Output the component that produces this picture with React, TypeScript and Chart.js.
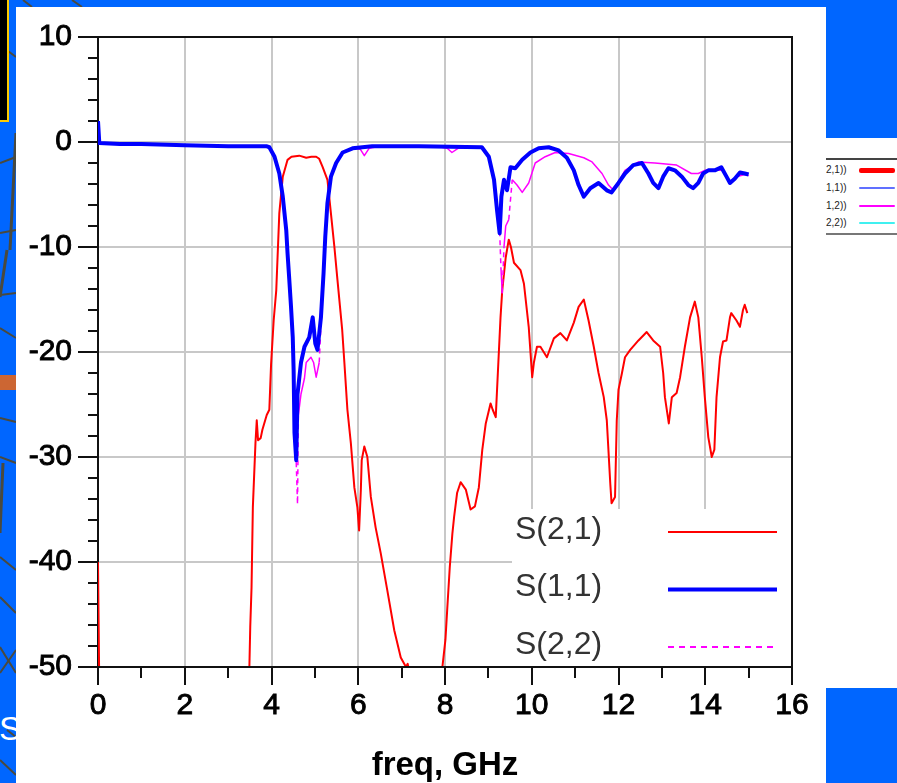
import React, { useEffect, useRef } from 'react';
import { Chart, registerables } from 'chart.js';
Chart.register(...registerables);

const FONT = '"Liberation Sans", Arial, Helvetica, sans-serif';

// ---- data (freq in GHz, magnitude in dB) ----
const s21Freq = [0, 0.04, 3.4, 3.49, 3.51, 3.54, 3.57, 3.63, 3.66, 3.69, 3.75, 3.79, 3.89, 3.95, 3.99, 4.05, 4.11, 4.18, 4.26, 4.37, 4.46, 4.64, 4.80, 4.92, 5.03, 5.10, 5.18, 5.29, 5.37, 5.45, 5.52, 5.63, 5.68, 5.75, 5.83, 5.91, 5.98, 6.02, 6.06, 6.08, 6.14, 6.21, 6.29, 6.40, 6.52, 6.67, 6.83, 6.98, 7.10, 7.14, 7.17, 7.3, 7.85, 7.94, 8.01, 8.05, 8.11, 8.17, 8.21, 8.28, 8.36, 8.48, 8.59, 8.69, 8.78, 8.86, 8.94, 9.05, 9.10, 9.17, 9.23, 9.28, 9.32, 9.40, 9.47, 9.52, 9.59, 9.74, 9.82, 9.93, 10.01, 10.05, 10.12, 10.20, 10.35, 10.51, 10.66, 10.81, 10.97, 11.08, 11.20, 11.31, 11.43, 11.54, 11.66, 11.73, 11.81, 11.84, 11.92, 11.96, 12.0, 12.08, 12.15, 12.27, 12.46, 12.65, 12.80, 12.96, 13.03, 13.07, 13.16, 13.23, 13.34, 13.42, 13.53, 13.65, 13.76, 13.84, 13.92, 13.99, 14.07, 14.15, 14.21, 14.26, 14.34, 14.41, 14.49, 14.57, 14.60, 14.72, 14.80, 14.87, 14.91, 14.97];
const s21Db = [-40, -56, -56, -50, -46.2, -42.4, -34.8, -28.7, -26.5, -28.4, -28.2, -27.4, -26, -25.5, -21.2, -17, -14.1, -6.8, -3.3, -1.7, -1.4, -1.3, -1.5, -1.4, -1.4, -1.6, -2.4, -3.6, -6.8, -10, -13.1, -17.9, -21, -25.5, -28.7, -32.9, -34.8, -37, -33.1, -30.3, -29, -30, -33.8, -36.7, -39.2, -42.7, -46.5, -49.1, -50, -49.7, -50.3, -56, -56, -50, -47.4, -44.6, -40.5, -37.3, -35.7, -33.4, -32.4, -33.1, -35, -34.7, -32.9, -29.3, -26.8, -24.9, -25.5, -26.2, -21, -16.7, -14.1, -11, -9.3, -10, -11.5, -12.2, -13.5, -17.6, -22.4, -21, -19.5, -19.5, -20.5, -18.7, -18.2, -18.9, -17.2, -15.7, -15, -17, -19.5, -22, -24.3, -26.5, -32.5, -34.4, -33.8, -26.5, -23.6, -22, -20.5, -19.8, -18.9, -18.1, -18.9, -19.5, -22, -24.3, -26.8, -24.3, -23.9, -22.4, -19.5, -16.7, -15.2, -16.7, -20.5, -24.3, -28.1, -30, -29.3, -24.3, -20.5, -19, -18.9, -16.7, -16.3, -17, -17.6, -16, -15.5, -16.3];

const s11Freq = [0, 0.03, 0.5, 1.0, 2.0, 3.0, 3.88, 3.95, 4.07, 4.18, 4.26, 4.34, 4.37, 4.41, 4.45, 4.49, 4.51, 4.53, 4.57, 4.60, 4.64, 4.68, 4.76, 4.87, 4.95, 5.01, 5.06, 5.14, 5.20, 5.24, 5.29, 5.37, 5.49, 5.64, 5.87, 6.32, 7.4, 8.85, 9.01, 9.13, 9.20, 9.26, 9.30, 9.36, 9.43, 9.51, 9.62, 9.78, 9.97, 10.16, 10.39, 10.62, 10.81, 10.97, 11.08, 11.20, 11.35, 11.54, 11.73, 11.84, 12.0, 12.15, 12.34, 12.54, 12.69, 12.80, 12.92, 13.03, 13.15, 13.30, 13.46, 13.61, 13.72, 13.84, 13.95, 14.07, 14.22, 14.37, 14.49, 14.57, 14.68, 14.80, 14.91, 15.0];
const s11Db = [2.0, -0.1, -0.2, -0.2, -0.3, -0.4, -0.4, -0.5, -1.4, -3, -5.2, -8.4, -10.6, -13.1, -15.7, -18.6, -21.7, -27.7, -30.3, -24, -22.5, -21, -19.5, -18.6, -16.7, -19.2, -19.8, -16.7, -12.5, -9, -5.8, -3.3, -2, -1, -0.6, -0.4, -0.4, -0.5, -1.4, -3.6, -6.5, -8.7, -5.2, -3.6, -4.6, -2.4, -2.5, -1.7, -1, -0.6, -0.5, -0.8, -1.5, -2.7, -4.1, -5.2, -4.4, -3.9, -4.6, -4.8, -3.9, -3, -2.2, -2, -3, -3.9, -4.4, -3.3, -2.5, -2.7, -3.3, -4.1, -4.4, -3.9, -3, -2.7, -2.7, -2.4, -3.3, -3.9, -3.5, -2.9, -3, -3.1];

const s22Freq = [0, 0.5, 2.0, 3.0, 3.88, 3.95, 4.07, 4.18, 4.26, 4.34, 4.37, 4.41, 4.45, 4.49, 4.51, 4.53, 4.57, 4.60, 4.62, 4.68, 4.76, 4.80, 4.91, 4.97, 5.03, 5.10, 5.15, 5.20, 5.24, 5.29, 5.37, 5.49, 5.64, 5.87, 6.05, 6.14, 6.25, 6.5, 7.8, 8.05, 8.16, 8.3, 8.85, 9.01, 9.13, 9.20, 9.26, 9.29, 9.32, 9.36, 9.40, 9.47, 9.55, 9.66, 9.78, 9.93, 10.08, 10.31, 10.54, 10.85, 11.20, 11.39, 11.62, 11.77, 11.86, 12.0, 12.15, 12.46, 12.84, 13.34, 13.68, 13.84, 13.99, 14.18, 14.41, 14.57, 14.72, 14.91, 15.0];
const s22Db = [-0.2, -0.2, -0.3, -0.4, -0.4, -0.5, -1.4, -3, -5.2, -8.4, -10.6, -13.1, -15.7, -18.6, -21.7, -27.7, -30.5, -34.5, -26, -24, -22.5, -21, -20.5, -21, -22.4, -21, -16.7, -12.5, -9, -5.8, -3.3, -2, -1, -0.6, -0.7, -1.3, -0.6, -0.4, -0.4, -0.6, -1.0, -0.6, -0.5, -1.4, -3.6, -6.5, -8.5, -12, -14.4, -10, -8, -7.4, -3.6, -4.1, -4.8, -3.9, -2, -1.4, -1, -1.1, -1.5, -1.9, -3, -4.1, -4.5, -3.8, -2.7, -1.9, -2, -2.2, -3, -3, -2.7, -2.7, -2.7, -3.8, -3.3, -3.1, -3.2];

const xTicks = [0, 2, 4, 6, 8, 10, 12, 14, 16];
const yTicks = [-50, -40, -30, -20, -10, 0, 10];
const xTitle = 'freq, GHz';
const legendNames = ['S(2,1)', 'S(1,1)', 'S(2,2)'];
const sideLegendNames = ['2,1))', '1,1))', '1,2))', '2,2))'];
const bottomText = 'Simulated';

// ---- styles ----
const C_S21 = '#ff0000';
const C_S11 = '#0000ff';
const C_S22 = '#ff00ff';
const legendStyles = [
  { color: C_S21, width: 2, dash: [] as number[] },
  { color: C_S11, width: 4, dash: [] as number[] },
  { color: C_S22, width: 2, dash: [6, 5] },
];
const sideLegendStyles = [
  { color: '#ff0000', width: 5 },
  { color: '#6070ff', width: 2 },
  { color: '#ff00ff', width: 2 },
  { color: '#40f0f0', width: 2 },
];

const toPts = (f: number[], v: number[]) => f.map((x, i) => ({ x, y: v[i] }));

const framePlugin = {
  id: 'adsFrame',
  afterDatasetsDraw(chart: any) {
    const { ctx, chartArea: a } = chart;
    ctx.save();
    const lx = 496;
    const ly = 502;
    ctx.fillStyle = '#ffffff';
    ctx.fillRect(lx, ly, a.right - lx - 1, a.bottom - ly - 1);
    legendNames.forEach((name, i) => {
      const cy = 523 + i * 57.5;
      ctx.fillStyle = '#333333';
      ctx.font = `32px ${FONT}`;
      ctx.textBaseline = 'middle';
      ctx.textAlign = 'left';
      ctx.fillText(name, 499, cy);
      const st = legendStyles[i];
      ctx.beginPath();
      ctx.strokeStyle = st.color;
      ctx.lineWidth = st.width;
      ctx.setLineDash(st.dash);
      ctx.moveTo(652, cy + 2);
      ctx.lineTo(761, cy + 2);
      ctx.stroke();
      ctx.setLineDash([]);
    });
    ctx.restore();
  },
  afterDraw(chart: any) {
    const { ctx, chartArea: a, scales } = chart;
    const x = scales.x;
    const y = scales.y;
    ctx.save();
    ctx.strokeStyle = '#111111';
    ctx.lineWidth = 2;
    ctx.beginPath();
    for (let v = -50; v <= 10; v += 2) {
      const py = Math.round(y.getPixelForValue(v));
      const len = v % 10 === 0 ? 20 : 10;
      ctx.moveTo(a.left - len, py);
      ctx.lineTo(a.left, py);
    }
    for (let v = 0; v <= 16; v += 1) {
      const px = Math.round(x.getPixelForValue(v));
      const len = v % 2 === 0 ? 18 : 11;
      ctx.moveTo(px, a.bottom);
      ctx.lineTo(px, a.bottom + len);
    }
    ctx.moveTo(a.left - 1, a.top);
    ctx.lineTo(a.right, a.top);
    ctx.lineTo(a.right, a.bottom);
    ctx.lineTo(a.left - 1, a.bottom);
    ctx.stroke();
    ctx.restore();
  },
};

function ChartPanel() {
  const ref = useRef<HTMLCanvasElement | null>(null);
  useEffect(() => {
    if (!ref.current) return;
    const chart = new Chart(ref.current, {
      type: 'line',
      data: {
        datasets: [
          {
            label: 'S(1,1)',
            data: toPts(s11Freq, s11Db),
            borderColor: C_S11,
            borderWidth: 4,
            order: 0,
          },
          {
            label: 'S(2,2)',
            data: toPts(s22Freq, s22Db),
            borderColor: C_S22,
            borderWidth: 1.5,
            order: 1,
            segment: {
              borderDash: (c: any) =>
                Math.abs(c.p1.parsed.y - c.p0.parsed.y) > 3 ? [5, 4] : undefined,
            },
          },
          {
            label: 'S(2,1)',
            data: toPts(s21Freq, s21Db),
            borderColor: C_S21,
            borderWidth: 2,
            order: 2,
          },
        ],
      },
      options: {
        animation: false,
        responsive: false,
        devicePixelRatio: 1,
        layout: { padding: { top: 30, right: 34, left: 0, bottom: 0 } },
        elements: { point: { radius: 0 }, line: { tension: 0, borderJoinStyle: 'round' } },
        plugins: { legend: { display: false }, tooltip: { enabled: false } },
        scales: {
          x: {
            type: 'linear',
            min: 0,
            max: 16,
            afterFit: (s: any) => { s.height = 116; },
            afterBuildTicks: (s: any) => { s.ticks = xTicks.map((v) => ({ value: v })); },
            ticks: {
              autoSkip: false,
              maxRotation: 0,
              padding: 0,
              color: '#000',
              textStrokeColor: '#000',
              textStrokeWidth: 0.9,
              font: { family: FONT, size: 30, lineHeight: 2.6 },
              callback: (v: any) => String(v),
            },
            grid: { color: '#c8c8c8', lineWidth: 2, drawTicks: false },
            border: { color: '#111', width: 2 },
            title: {
              display: true,
              text: xTitle,
              color: '#000',
              font: { family: FONT, size: 33, weight: 'bold' },
              padding: { top: 0, bottom: -3 },
            },
          },
          y: {
            type: 'linear',
            min: -50,
            max: 10,
            afterFit: (s: any) => { s.width = 82; },
            afterBuildTicks: (s: any) => { s.ticks = yTicks.map((v) => ({ value: v })); },
            ticks: {
              autoSkip: false,
              padding: 26,
              color: '#000',
              textStrokeColor: '#000',
              textStrokeWidth: 0.9,
              font: { family: FONT, size: 30, lineHeight: 0.13 },
              callback: (v: any) => String(v),
            },
            grid: { color: '#c8c8c8', lineWidth: 2, drawTicks: false },
            border: { color: '#111', width: 2 },
          },
        },
      } as any,
      plugins: [framePlugin],
    });
    return () => chart.destroy();
  }, []);
  return <canvas ref={ref} width={810} height={776} style={{ display: 'block' }} />;
}

const netLines: [number, number, number, number, number][] = [
  [23, 0, 32, 7, 2], [72, 0, 82, 7, 2], [0, 45, 16, 57, 2], [16, 133, 10, 250, 3],
  [0, 163, 16, 157, 2], [0, 233, 16, 230, 2], [7, 250, 0, 297, 3], [0, 295, 16, 293, 2],
  [0, 328, 16, 338, 2], [0, 418, 16, 422, 2], [0, 457, 16, 463, 2], [3, 463, 0, 533, 3],
  [0, 557, 16, 570, 2], [0, 597, 16, 613, 2], [0, 647, 16, 673, 2], [0, 673, 16, 650, 2],
  [7, 730, 16, 737, 2], [0, 760, 16, 775, 2],
];

export default function App() {
  return (
    <div style={{ position: 'fixed', left: 0, top: 0, width: 897, height: 783, overflow: 'hidden', background: '#0066ff', fontFamily: FONT }}>
      <svg width={897} height={783} style={{ position: 'absolute', left: 0, top: 0 }}>
        {netLines.map((l, i) => (
          <line key={i} x1={l[0]} y1={l[1]} x2={l[2]} y2={l[3]} stroke="#4a4a3e" strokeWidth={l[4]} />
        ))}
        <rect x={-2} y={-2} width={10} height={123} fill="#000" stroke="#ffcc00" strokeWidth={2} />
        <rect x={0} y={375} width={16} height={15} fill="#cc6633" />
      </svg>
      <div style={{ position: 'absolute', left: -1, top: 710, color: '#fff', fontSize: 34, lineHeight: '36px', whiteSpace: 'nowrap' }}>{bottomText}</div>
      {/* right side partial legend */}
      <div style={{ position: 'absolute', left: 826, top: 138, width: 71, height: 550, background: '#fff' }}>
        <div style={{ position: 'absolute', left: 0, top: 20, width: 71, height: 2, background: '#444' }} />
        <div style={{ position: 'absolute', left: 0, top: 95, width: 71, height: 2, background: '#777' }} />
        {sideLegendNames.map((n, i) => (
          <div key={i}>
            <div style={{ position: 'absolute', left: 0, top: 26 + i * 17.8, fontSize: 10, lineHeight: '12px', color: '#222' }}>{n}</div>
            <div style={{ position: 'absolute', left: 33, top: 32 + i * 17.8 - sideLegendStyles[i].width / 2, width: 36, height: sideLegendStyles[i].width, background: sideLegendStyles[i].color, borderRadius: 2 }} />
          </div>
        ))}
      </div>
      <div style={{ position: 'absolute', left: 16, top: 7, width: 810, height: 776, background: '#fff' }}>
        <ChartPanel />
      </div>
    </div>
  );
}
